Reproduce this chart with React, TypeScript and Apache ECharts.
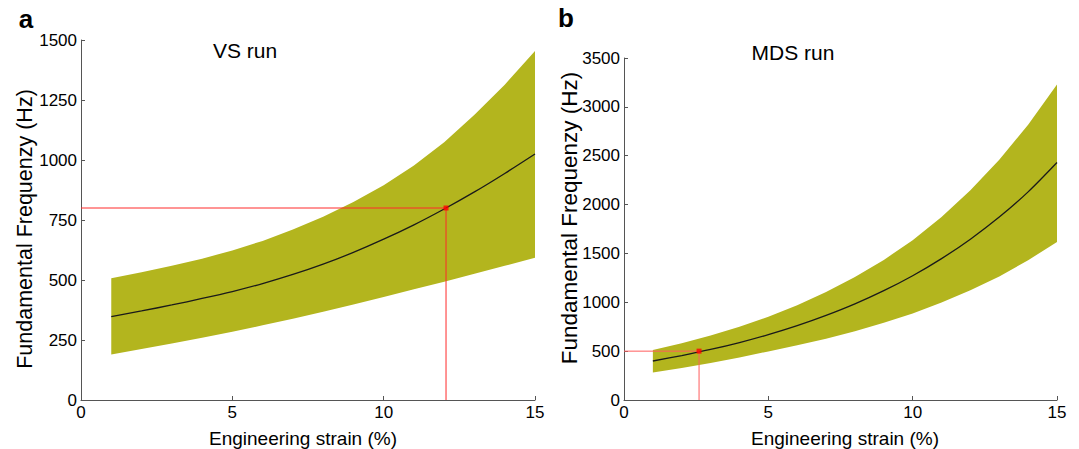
import { useEffect, useRef } from 'react';
import * as echarts from 'echarts';

// Engineering strain (%) sample positions
const strain = [1, 2, 3, 4, 5, 6, 7, 8, 9, 10, 11, 12, 13, 14, 15];

// Panel a: VS run (Hz)
const vsUpper = [507, 532, 559, 589, 623, 663, 710, 764, 825, 895, 977, 1074, 1189, 1314, 1454];
const vsMean = [347, 371, 396, 423, 452, 485, 523, 566, 615, 670, 730, 796, 867, 944, 1025];
const vsLower = [190, 212, 235, 259, 284, 311, 339, 368, 398, 429, 461, 493, 526, 559, 593];
const vsMarker = [12.06, 800];

// Panel b: MDS run (Hz)
const mdsUpper = [511, 580, 660, 750, 852, 970, 1105, 1259, 1434, 1634, 1872, 2146, 2459, 2818, 3230];
const mdsMean = [399, 455, 517, 588, 669, 761, 866, 984, 1119, 1272, 1447, 1646, 1872, 2130, 2430];
const mdsLower = [282, 328, 379, 436, 497, 560, 628, 704, 790, 886, 997, 1123, 1265, 1430, 1618];
const mdsMarker = [2.6, 500];

// Axis ranges / ticks
const xTicks = { min: 0, max: 15, interval: 5 };
const vsYTicks = { min: 0, max: 1500, interval: 250 };
const mdsYTicks = { min: 0, max: 3500, interval: 500 };

const titles = ['VS run', 'MDS run'];
const panelLetters = ['a', 'b'];
const xName = 'Engineering strain (%)';
const yName = 'Fundamental Frequenzy (Hz)';

const FONT = '"Liberation Sans", Arial, Helvetica, sans-serif';
const BAND = '#b3b51e';
const AXIS = '#555555';

function pairs(xs: number[], ys: number[]) {
  return xs.map((x, i) => [x, ys[i]]);
}

function panelSeries(idx: number, upper: number[], mean: number[], lower: number[], marker: number[], red: string) {
  return [
    {
      type: 'custom', xAxisIndex: idx, yAxisIndex: idx, coordinateSystem: 'cartesian2d',
      data: strain.map((x, i) => [x, lower[i], upper[i]]),
      encode: { x: 0, y: [1, 2] },
      silent: true, z: 1,
      renderItem: (params: any, api: any) => {
        if (params.dataIndex !== 0) return { type: 'group', children: [] };
        const pts: number[][] = [];
        for (let i = 0; i < strain.length; i++) pts.push(api.coord([strain[i], upper[i]]));
        for (let i = strain.length - 1; i >= 0; i--) pts.push(api.coord([strain[i], lower[i]]));
        return { type: 'polygon', shape: { points: pts }, style: { fill: BAND, stroke: null } };
      },
    },
    {
      type: 'line', xAxisIndex: idx, yAxisIndex: idx,
      data: pairs(strain, mean), symbol: 'none', smooth: 0.3,
      lineStyle: { color: '#1a1a1a', width: 1.3 }, silent: true, z: 3,
    },
    {
      type: 'line', xAxisIndex: idx, yAxisIndex: idx,
      data: [[0, marker[1]], [marker[0], marker[1]], [marker[0], 0]], symbol: 'none',
      lineStyle: { color: red, width: 1 }, silent: true, z: 4,
    },
    {
      type: 'scatter', xAxisIndex: idx, yAxisIndex: idx,
      data: [marker], symbol: 'rect', symbolSize: 5,
      itemStyle: { color: '#ff0000' }, silent: true, z: 5,
    },
  ];
}

function xAxis(gridIndex: number) {
  return {
    type: 'value', gridIndex, ...xTicks,
    axisLine: { show: true, lineStyle: { color: AXIS, width: 1 } },
    axisTick: { show: true, inside: true, length: 4, lineStyle: { color: AXIS } },
    splitLine: { show: false },
    axisLabel: { color: '#000', fontSize: 17, fontFamily: FONT, margin: 4, formatter: (v: number) => String(v) },
  };
}

function yAxis(gridIndex: number, ticks: { min: number; max: number; interval: number }) {
  return {
    type: 'value', gridIndex, ...ticks,
    axisLine: { show: true, lineStyle: { color: AXIS, width: 1 } },
    axisTick: { show: true, inside: true, length: 4, lineStyle: { color: AXIS } },
    splitLine: { show: false },
    axisLabel: { color: '#000', fontSize: 17, fontFamily: FONT, margin: 4, formatter: (v: number) => String(v) },
  };
}

function label(text: string, x: number, y: number, size: number, extra: any = {}) {
  return {
    type: 'text', x, y, ...extra,
    style: { text, fontSize: size, fontFamily: FONT, fill: '#000', align: 'center', verticalAlign: 'middle', ...(extra.style || {}) },
  };
}

export default function App() {
  const ref = useRef<HTMLDivElement>(null);
  useEffect(() => {
    if (!ref.current) return;
    const chart = echarts.init(ref.current, undefined, { renderer: 'svg' });
    chart.setOption({
      animation: false,
      backgroundColor: '#ffffff',
      grid: [
        { left: 81, top: 40, width: 454, height: 360 },
        { left: 624, top: 58, width: 433, height: 342 },
      ],
      xAxis: [xAxis(0), xAxis(1)],
      yAxis: [yAxis(0, vsYTicks), yAxis(1, mdsYTicks)],
      graphic: [
        label(titles[0], 245, 50, 21),
        label(titles[1], 793, 52, 21),
        { type: 'text', x: 26, y: 19, style: { text: panelLetters[0], fontSize: 26, fontWeight: 'bold', fontFamily: FONT, fill: '#000', align: 'center', verticalAlign: 'middle' } },
        { type: 'text', x: 566, y: 18, style: { text: panelLetters[1], fontSize: 26, fontWeight: 'bold', fontFamily: FONT, fill: '#000', align: 'center', verticalAlign: 'middle' } },
        label(yName, 25, 229, 21.5, { rotation: Math.PI / 2 }),
        label(yName, 569, 218, 22.5, { rotation: Math.PI / 2 }),
        label(xName, 303, 438, 19),
        label(xName, 845, 438, 19),
      ],
      series: [
        ...panelSeries(0, vsUpper, vsMean, vsLower, vsMarker, '#ff2a2a'),
        ...panelSeries(1, mdsUpper, mdsMean, mdsLower, mdsMarker, '#ff5c5c'),
      ],
    });
    return () => chart.dispose();
  }, []);
  return <div ref={ref} style={{ position: 'fixed', left: 0, top: 0, width: 1079, height: 449 }} />;
}
